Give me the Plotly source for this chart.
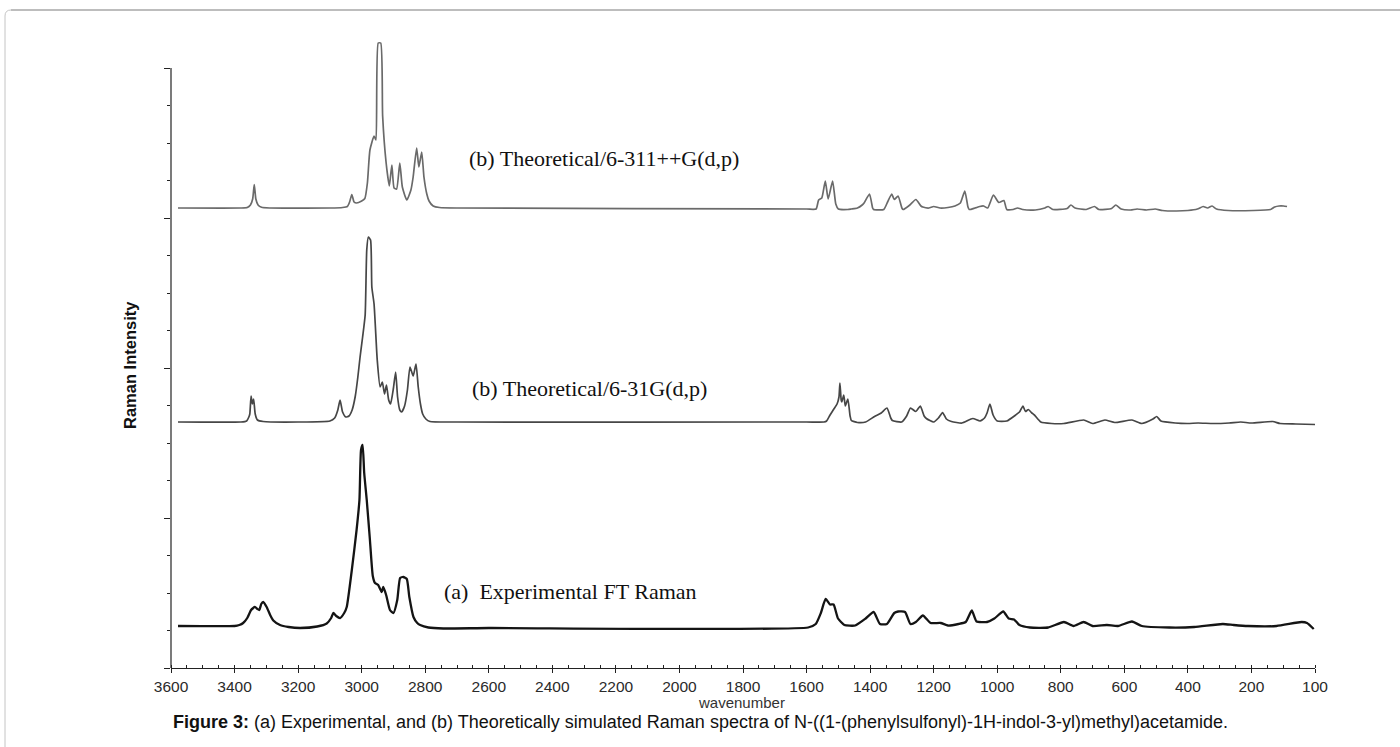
import plotly.graph_objects as go

# ---------------- data ----------------
# x positions on the wavenumber axis (the last tick, labelled "100", sits at position 0)
XTICK_POS = [3600, 3400, 3200, 3000, 2800, 2600, 2400, 2200, 2000, 1800,
             1600, 1400, 1200, 1000, 800, 600, 400, 200, 0]
XTICK_TEXT = ["3600", "3400", "3200", "3000", "2800", "2600", "2400", "2200", "2000", "1800",
              "1600", "1400", "1200", "1000", "800", "600", "400", "200", "100"]

# vertical offsets of the stacked spectra (axis units)
OFFSET_B311 = 460
OFFSET_B31 = 246
OFFSET_EXP = 42

# (b) Theoretical / 6-311++G(d,p)
B311_WN = [3578, 3380, 3360, 3350, 3343, 3338, 3333, 3326, 3315, 3290, 3100, 3060, 3045, 3038, 3031,
           3024, 3016, 3000, 2990, 2982, 2974, 2961, 2955, 2948, 2940, 2934, 2923, 2913, 2905, 2898,
           2890, 2880, 2872, 2858, 2845, 2838, 2827, 2820, 2811, 2804, 2795, 2788, 2775, 2755, 2700,
           1600, 1570, 1562, 1552, 1541, 1532, 1518, 1508, 1500, 1470, 1459, 1440, 1425, 1419, 1402,
           1392, 1389, 1357, 1345, 1332, 1324, 1312, 1300, 1296, 1275, 1256, 1240, 1234, 1215, 1200,
           1180, 1155, 1133, 1116, 1102, 1092, 1088, 1070, 1055, 1043, 1030, 1012, 995, 979, 970,
           950, 936, 920, 880, 850, 840, 825, 780, 768, 755, 720, 694, 680, 640, 627, 610, 580, 560,
           530, 503, 480, 436, 400, 370, 352, 338, 324, 310, 273, 194, 140, 127, 113, 99, 88]
B311_I = [0, 0, 0.5, 3, 9, 23.5, 9, 3, 0.7, 0, 0, 0.5, 1.5, 6, 13.5,
          6, 5, 7, 9.5, 25, 58, 72, 68, 165, 165, 92, 45, 22, 43, 20,
          19, 45, 21, 8, 18, 31, 60, 41, 56, 31, 14, 7, 2, 0.5, 0,
          -1, -1, 8, 10, 27, 9, 27, 4, -1, -1.5, -1, 0, 3, 5, 14,
          0, -1.5, -1.5, 6, 14, 8.5, 12, 0, -1.5, 3, 8.5, 2, 1, 0, 1.5,
          0, 0.5, 2, 5, 17, 1, -1.5, 0, 1.5, 2, 0, 13, 5.5, 7.5, -1.5,
          -1.5, 0, -1.5, -2, 0, 1.5, -1.5, -0.5, 3, 0, -1.5, 1.5, -1.5, -0.5, 3, -1, -2, -1,
          -2, -1, -2.5, -3, -2.5, -1, 1.5, 0, 2, -1, -2.5, -2.5, -1.5, 1, 2, 2, 1.5]

# (b) Theoretical / 6-31G(d,p)
B31_WN = [3578, 3380, 3362, 3355, 3352, 3348, 3344, 3340, 3335, 3328, 3310, 3200, 3100, 3085, 3075,
          3068, 3060, 3050, 3040, 3030, 3020, 3012, 3005, 2997, 2989, 2984, 2979, 2972, 2968, 2961,
          2951, 2942, 2935, 2928, 2922, 2915, 2909, 2900, 2893, 2887, 2880, 2874, 2865, 2856, 2848,
          2838, 2829, 2822, 2815, 2808, 2798, 2785, 2700,
          1600, 1545, 1537, 1526, 1515, 1504, 1498, 1495, 1491, 1489, 1483, 1478, 1470, 1463, 1459,
          1440, 1414, 1386, 1365, 1347, 1335, 1330, 1301, 1285, 1273, 1256, 1242, 1230, 1223, 1200,
          1185, 1172, 1160, 1144, 1111, 1077, 1054, 1040, 1032, 1023, 1013, 1000, 970, 942, 930,
          919, 911, 902, 891, 883, 863, 829, 790, 728, 700, 661, 630, 576, 545, 510, 498, 485, 440,
          400, 368, 320, 270, 234, 200, 133, 110, 60, 0]
B31_I = [0, 0, 1, 5, 8, 26, 18, 23, 8, 2, 0.5, 0, 1, 4, 12,
         22, 10, 5, 6, 12, 26, 45, 65, 85, 107, 172, 185, 182, 135, 118,
         62, 35, 40, 28, 37, 22, 18, 34, 50, 25, 12, 10, 16, 32, 55,
         46, 58, 35, 18, 8, 3, 0.5, 0,
         0, 0, 1, 7, 12.5, 18, 25, 39, 22, 20, 27, 16, 23, 6, 1.5,
         -0.5, 0, 5.5, 9, 14, 4, 1.5, 0, 6, 14, 10.5, 16, 6, 3.5, 0,
         4, 9.5, 3, 0.5, -1, 3.5, 1, 4, 9, 18, 7, 1, 1, 7, 10,
         16, 10.5, 12.5, 9, 7, 0, -1.5, -1.5, 2, -1.5, 2, -0.5, 2, -1.5, 3, 5.5, 1, -1,
         -1.5, -1, -1.5, -1, 0, -1, 0.5, -1.5, -2, -2.5]

# (a) Experimental FT Raman
EXP_WN = [3578, 3400, 3385, 3373, 3360, 3348, 3336, 3328, 3322, 3316, 3310, 3299, 3288, 3278, 3257,
          3230, 3194, 3140, 3110, 3096, 3089, 3080, 3068, 3055, 3047, 3031, 3016, 3007, 3002, 2997,
          2992, 2984, 2974, 2965, 2958, 2948, 2937, 2932, 2923, 2911, 2900, 2888, 2879, 2869, 2858,
          2850, 2837, 2825, 2816, 2790, 2743, 2600,
          1595, 1571, 1555, 1540, 1526, 1515, 1501, 1481, 1447, 1414, 1389, 1369, 1347, 1324, 1312,
          1290, 1273, 1256, 1234, 1210, 1178, 1155, 1122, 1099, 1080, 1065, 1032, 1009, 981, 964,
          947, 930, 897, 840, 790, 760, 728, 700, 655, 620, 576, 545, 458, 380, 290, 256, 211, 121,
          42, 25, 4]
EXP_I = [0, 0, 1, 3, 8, 16, 19, 17, 16, 22, 24, 19, 11, 5.5, 1,
         -1, -2, -0.5, 2.5, 8, 13, 10, 8, 13, 19, 56, 96, 126, 176, 181,
         153, 126, 86, 50, 43, 41, 34, 39, 31, 16, 13, 26, 48, 49, 47,
         29, 9, 3, 1, -1.5, -2.5, -2,
         -1.5, 2, 13, 27, 21.5, 21.5, 7.5, 1, 0.5, 7.5, 14, 2, 2, 13, 14.5,
         14, 2, 4, 10.5, 3, 3, 0.5, 2, 4, 15.5, 4.5, 4, 7.5, 14.5, 7.5,
         6.5, 1, -1.5, -1.5, 4, 0, 4, 0, 1, 0, 4.5, 0, -1.5, -1, 2, 1, 0, 0,
         4, 3, -3]

SERIES_LABELS = ["(b) Theoretical/6-311++G(d,p)", "(b) Theoretical/6-31G(d,p)",
                 "(a)  Experimental FT Raman"]

# ---------------- figure ----------------
fig = go.Figure()

fig.add_trace(go.Scatter(x=B311_WN, y=[OFFSET_B311 + v for v in B311_I], mode="lines",
                         line=dict(color="#6a6a6a", width=1.7, shape="spline", smoothing=0.5),
                         hoverinfo="skip", showlegend=False))
fig.add_trace(go.Scatter(x=B31_WN, y=[OFFSET_B31 + v for v in B31_I], mode="lines",
                         line=dict(color="#464646", width=1.7, shape="spline", smoothing=0.5),
                         hoverinfo="skip", showlegend=False))
fig.add_trace(go.Scatter(x=EXP_WN, y=[OFFSET_EXP + v for v in EXP_I], mode="lines",
                         line=dict(color="#141414", width=2.3, shape="spline", smoothing=0.5),
                         hoverinfo="skip", showlegend=False))

L, R, T, B = 171, 85, 40, 79
W, H = 1400, 747
PW, PH = W - L - R, H - T - B


def px_x(px):
    return (px - L) / PW


def px_y(py):
    return (H - B - py) / PH


axis_col = "#222222"
tick_font = dict(family="Liberation Sans, Arial, sans-serif", size=15.5, color="#2a2a2a")

fig.update_layout(
    width=W, height=H,
    margin=dict(l=L, r=R, t=T, b=B),
    paper_bgcolor="white", plot_bgcolor="white",
    xaxis=dict(
        range=[3600, 0], tickmode="array", tickvals=XTICK_POS, ticktext=XTICK_TEXT,
        showline=True, linecolor=axis_col, linewidth=1,
        ticks="outside", ticklen=4, tickcolor=axis_col, tickwidth=1,
        tickfont=tick_font, showgrid=False, zeroline=False,
        minor=dict(ticks="inside", ticklen=3, tick0=0, dtick=50, tickcolor=axis_col, showgrid=False),
    ),
    yaxis=dict(
        range=[0, PH], tickmode="array", tickvals=[0, 150, 300, 450, 600],
        showticklabels=False, showline=False, showgrid=False, zeroline=False,
        ticks="outside", ticklen=6, tickcolor=axis_col, tickwidth=1,
        minor=dict(ticks="outside", ticklen=3, tick0=0, dtick=37.5, tickcolor=axis_col, showgrid=False),
    ),
)

# y axis line (ends at the top major tick, as in the reference)
fig.add_shape(type="line", xref="paper", yref="y", x0=0, x1=0, y0=0, y1=600,
              line=dict(color=axis_col, width=1.2))

# page frame (top and left border with rounded corner)
x0f, ytf, ybf, xrf = px_x(5), px_y(10), px_y(747), px_x(1400)
rdx, rdy = 6 / PW, 6 / PH
fig.add_shape(type="path", xref="paper", yref="paper",
              path=f"M {x0f},{ybf} L {x0f},{ytf - rdy} Q {x0f},{ytf} {x0f + rdx},{ytf}",
              line=dict(color="#c4c4c4", width=1))
fig.add_shape(type="line", xref="paper", yref="paper", x0=x0f + rdx, x1=xrf, y0=ytf, y1=ytf,
              line=dict(color="#bdbdbd", width=2))

serif = dict(family="Liberation Serif, Times New Roman, serif", size=22, color="#111111")
label_pos = [(2668, 510), (2659, 280), (2747, 77)]
for txt, (lx, ly) in zip(SERIES_LABELS, label_pos):
    fig.add_annotation(x=lx, y=ly, xref="x", yref="y", text=txt, showarrow=False,
                       xanchor="left", yanchor="middle", font=serif)

fig.add_annotation(x=px_x(130), y=px_y(365), xref="paper", yref="paper",
                   text="<b>Raman Intensity</b>", textangle=-90, showarrow=False,
                   xanchor="center", yanchor="middle",
                   font=dict(family="Liberation Sans, Arial, sans-serif", size=16.5, color="#111111"))

fig.add_annotation(x=px_x(741), y=px_y(702), xref="paper", yref="paper",
                   text="wavenumber", showarrow=False, xanchor="center", yanchor="middle",
                   font=dict(family="Liberation Sans, Arial, sans-serif", size=15, color="#333333"))

fig.add_annotation(x=px_x(700), y=px_y(722), xref="paper", yref="paper",
                   text="<b>Figure 3:</b> (a) Experimental, and (b) Theoretically simulated Raman spectra of "
                        "N-((1-(phenylsulfonyl)-1H-indol-3-yl)methyl)acetamide.",
                   showarrow=False, xanchor="center", yanchor="middle",
                   font=dict(family="Liberation Sans, Arial, sans-serif", size=18, color="#111111"))

fig.write_html("out.html")
